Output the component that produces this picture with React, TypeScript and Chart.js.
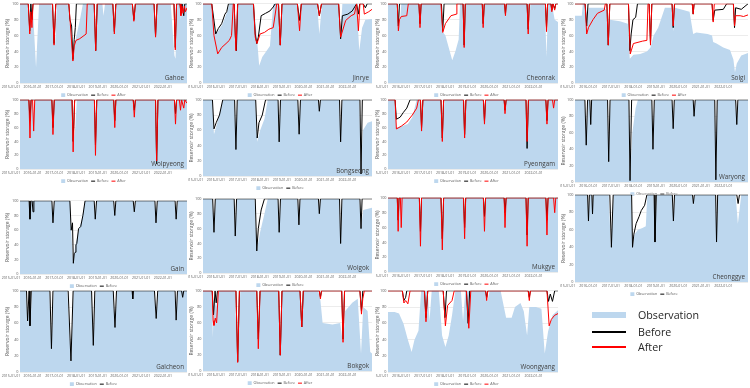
import React, { useEffect, useRef } from 'react';
import { Chart, registerables } from 'chart.js';

Chart.register(...registerables);

type Pt = [number, number];

const xTickYears = [2015, 2016, 2017, 2018, 2019, 2020, 2021, 2022];
const xTickLabels = ['2015-01-01', '2016-01-01', '2017-01-01', '2018-01-01', '2019-01-01', '2020-01-01', '2021-01-01', '2022-01-01'];
const yTickValues = [0, 20, 40, 60, 80, 100];
const seriesNames = ['Observation', 'Before', 'After'];
const yTitle = 'Reservoir storage (%)';

// ---------- Gahoe ----------
const gahoeObs: Pt[] = [[2015,100],[2015.35,100],[2015.42,70],[2015.47,64],[2015.52,95],[2015.6,90],[2015.7,40],[2015.74,20],[2015.8,55],[2015.88,100],[2016.45,100],[2016.55,60],[2016.62,48],[2016.7,100],[2017.2,100],[2017.32,70],[2017.42,37],[2017.5,45],[2017.6,60],[2017.75,78],[2017.9,100],[2018.4,100],[2018.48,41],[2018.55,100],[2018.8,100],[2018.85,85],[2018.92,100],[2019.25,100],[2019.35,62],[2019.45,100],[2020.15,100],[2020.25,79],[2020.35,100],[2021.15,100],[2021.25,56],[2021.35,100],[2021.95,100],[2022.12,35],[2022.17,31],[2022.25,100],[2022.38,100],[2022.42,80],[2022.47,100],[2022.7,100]];
const gahoeBefore: Pt[] = [[2015,100],[2015.38,100],[2015.45,66],[2015.5,100],[2015.55,80],[2015.6,100],[2016.5,100],[2016.57,50],[2016.65,100],[2017.25,100],[2017.3,80],[2017.38,72],[2017.44,30],[2017.5,55],[2017.55,70],[2017.6,100],[2018.42,100],[2018.49,41],[2018.56,100],[2019.28,100],[2019.35,65],[2019.42,100],[2020.18,100],[2020.25,80],[2020.32,100],[2021.18,100],[2021.25,60],[2021.32,100],[2022.1,100],[2022.16,45],[2022.22,100],[2022.38,100],[2022.42,88],[2022.47,100],[2022.55,85],[2022.6,100],[2022.7,100]];
const gahoeAfter: Pt[] = [[2015,100],[2015.38,100],[2015.45,62],[2015.5,90],[2015.55,70],[2015.6,100],[2016.5,100],[2016.57,48],[2016.65,100],[2017.25,100],[2017.32,75],[2017.44,28],[2017.5,47],[2017.58,54],[2017.75,56],[2017.95,60],[2018.05,62],[2018.1,100],[2018.42,100],[2018.49,41],[2018.56,100],[2019.28,100],[2019.35,62],[2019.42,100],[2020.18,100],[2020.25,78],[2020.32,100],[2021.18,100],[2021.25,58],[2021.32,100],[2022.1,100],[2022.16,42],[2022.22,100],[2022.38,100],[2022.42,85],[2022.47,97],[2022.52,88],[2022.58,97],[2022.63,90],[2022.7,95]];

// ---------- Jinrye ----------
const jinryeObs: Pt[] = [[2015,100],[2015.42,100],[2015.55,62],[2015.7,66],[2015.9,75],[2016.1,90],[2016.2,100],[2016.4,100],[2016.47,41],[2016.55,100],[2017.3,100],[2017.45,60],[2017.56,22],[2017.7,33],[2017.9,41],[2018.05,47],[2018.2,100],[2018.42,100],[2018.52,48],[2018.62,100],[2019.28,100],[2019.4,66],[2019.5,100],[2020.2,100],[2020.3,62],[2020.42,100],[2021.15,100],[2021.25,56],[2021.35,100],[2022.0,100],[2022.12,41],[2022.25,70],[2022.4,80],[2022.7,81]];
const jinryeBefore: Pt[] = [[2015,100],[2015.4,100],[2015.58,62],[2015.7,69],[2015.85,75],[2016.0,87],[2016.08,90],[2016.16,100],[2016.42,100],[2016.47,60],[2016.52,41],[2016.58,100],[2017.3,100],[2017.38,62],[2017.45,50],[2017.52,58],[2017.65,85],[2017.85,88],[2018.05,91],[2018.2,96],[2018.29,100],[2018.44,100],[2018.52,48],[2018.6,100],[2019.3,100],[2019.4,79],[2019.48,100],[2020.22,100],[2020.3,85],[2020.4,100],[2021.18,100],[2021.27,56],[2021.35,85],[2021.6,87],[2021.8,91],[2022.0,100],[2022.08,87],[2022.14,100],[2022.3,100],[2022.4,95],[2022.48,100],[2022.7,100]];
const jinryeAfter: Pt[] = [[2015,100],[2015.4,100],[2015.5,60],[2015.67,37],[2015.85,45],[2016.05,50],[2016.2,54],[2016.3,60],[2016.38,100],[2016.42,100],[2016.5,41],[2016.58,100],[2017.3,100],[2017.38,58],[2017.46,50],[2017.6,62],[2017.8,64],[2018.0,68],[2018.2,70],[2018.36,100],[2018.44,100],[2018.52,48],[2018.6,100],[2019.3,100],[2019.4,66],[2019.48,100],[2020.22,100],[2020.3,85],[2020.4,100],[2021.18,100],[2021.27,58],[2021.5,79],[2021.75,85],[2021.9,87],[2022.0,100],[2022.08,66],[2022.15,100],[2022.3,100],[2022.35,87],[2022.55,90],[2022.7,93]];

// ---------- Cheonrak ----------
const cheonrakObs: Pt[] = [[2015,100],[2015.4,100],[2015.47,68],[2015.55,80],[2015.6,100],[2016.38,100],[2016.45,70],[2016.52,100],[2017.4,100],[2017.5,64],[2017.6,60],[2017.75,45],[2017.91,29],[2018.05,40],[2018.2,55],[2018.26,100],[2018.4,100],[2018.45,48],[2018.52,100],[2019.25,100],[2019.31,70],[2019.38,100],[2020.25,100],[2020.33,83],[2020.4,100],[2021.3,100],[2021.38,66],[2021.45,100],[2022.1,100],[2022.18,33],[2022.25,100],[2022.42,100],[2022.55,80],[2022.7,77]];
const cheonrakBefore: Pt[] = [[2015,100],[2015.42,100],[2015.47,72],[2015.52,100],[2016.4,100],[2016.45,75],[2016.5,100],[2017.42,100],[2017.48,66],[2017.54,100],[2018.4,100],[2018.45,48],[2018.5,100],[2019.27,100],[2019.31,75],[2019.36,100],[2020.28,100],[2020.32,87],[2020.36,100],[2021.3,100],[2021.35,68],[2021.4,100],[2022.13,100],[2022.18,70],[2022.23,100],[2022.38,100],[2022.42,92],[2022.47,100],[2022.55,94],[2022.6,100],[2022.7,100]];
const cheonrakAfter: Pt[] = [[2015,100],[2015.42,100],[2015.47,66],[2015.52,80],[2015.6,84],[2015.85,85],[2015.92,100],[2016.4,100],[2016.45,70],[2016.5,100],[2017.4,100],[2017.48,64],[2017.6,75],[2017.85,85],[2018.1,87],[2018.12,100],[2018.4,100],[2018.45,45],[2018.5,100],[2019.27,100],[2019.31,70],[2019.36,100],[2020.28,100],[2020.32,85],[2020.36,100],[2021.3,100],[2021.35,62],[2021.4,100],[2022.13,100],[2022.18,65],[2022.23,100],[2022.38,100],[2022.42,90],[2022.47,100],[2022.55,92],[2022.6,100],[2022.7,100]];

// ---------- Solgi ----------
const solgiObs: Pt[] = [[2015,85],[2015.3,85],[2015.35,100],[2015.45,100],[2015.52,70],[2015.6,95],[2016.3,95],[2016.4,92],[2016.48,48],[2016.55,80],[2017.0,78],[2017.35,75],[2017.44,31],[2017.6,36],[2017.9,37],[2018.2,40],[2018.36,45],[2018.5,60],[2018.7,70],[2019.0,95],[2019.3,95],[2019.37,65],[2019.45,95],[2020.1,90],[2020.26,62],[2020.4,64],[2020.9,62],[2021.1,60],[2021.15,52],[2021.3,50],[2021.6,45],[2021.9,42],[2022.05,30],[2022.12,14],[2022.2,25],[2022.4,35],[2022.7,38]];
const solgiBefore: Pt[] = [[2015,100],[2015.45,100],[2015.52,72],[2015.58,100],[2016.42,100],[2016.48,48],[2016.55,100],[2017.38,100],[2017.44,41],[2017.5,62],[2017.58,80],[2017.7,83],[2017.78,100],[2018.3,100],[2018.36,50],[2018.42,100],[2019.32,100],[2019.37,70],[2019.43,100],[2020.22,100],[2020.26,87],[2020.3,100],[2021.1,100],[2021.15,79],[2021.22,92],[2021.6,93],[2021.75,100],[2022.05,100],[2022.1,70],[2022.15,95],[2022.4,93],[2022.7,100]];
const solgiAfter: Pt[] = [[2015,100],[2015.45,100],[2015.52,62],[2015.6,70],[2015.8,80],[2016.0,88],[2016.3,92],[2016.35,100],[2016.42,100],[2016.48,48],[2016.55,100],[2017.38,100],[2017.46,37],[2017.6,50],[2018.0,53],[2018.2,54],[2018.25,100],[2018.3,100],[2018.36,48],[2018.42,100],[2019.32,100],[2019.37,72],[2019.43,100],[2020.22,100],[2020.26,87],[2020.3,100],[2021.1,100],[2021.15,77],[2021.2,100],[2022.05,100],[2022.1,72],[2022.15,85],[2022.35,85],[2022.5,84],[2022.7,86]];

// ---------- Wolpyeong ----------
const wolpyeongObs: Pt[] = [[2015,100],[2015.4,100],[2015.46,60],[2015.52,100],[2015.58,100],[2015.63,75],[2015.68,100],[2016.45,100],[2016.52,55],[2016.6,100],[2017.38,100],[2017.45,35],[2017.55,60],[2017.62,100],[2018.4,100],[2018.48,30],[2018.56,100],[2019.3,100],[2019.37,70],[2019.44,100],[2020.2,100],[2020.27,80],[2020.34,100],[2021.22,100],[2021.3,10],[2021.38,100],[2022.1,100],[2022.17,75],[2022.24,100],[2022.7,100]];
const wolpyeongBefore: Pt[] = [[2015,100],[2015.41,100],[2015.46,70],[2015.51,100],[2016.47,100],[2016.52,60],[2016.58,100],[2017.4,100],[2017.45,40],[2017.52,100],[2018.43,100],[2018.48,35],[2018.54,100],[2019.32,100],[2019.37,70],[2019.42,100],[2020.22,100],[2020.27,85],[2020.32,100],[2021.25,100],[2021.3,8],[2021.36,100],[2022.12,100],[2022.17,80],[2022.22,100],[2022.7,100]];
const wolpyeongAfter: Pt[] = [[2015,100],[2015.41,100],[2015.46,45],[2015.51,100],[2015.58,100],[2015.63,55],[2015.68,100],[2016.47,100],[2016.52,50],[2016.58,100],[2017.4,100],[2017.45,25],[2017.52,100],[2018.43,100],[2018.48,20],[2018.54,100],[2019.32,100],[2019.37,60],[2019.42,100],[2020.22,100],[2020.27,75],[2020.32,100],[2021.25,100],[2021.3,12],[2021.36,100],[2022.12,100],[2022.17,65],[2022.22,100],[2022.35,100],[2022.4,85],[2022.45,100],[2022.55,88],[2022.6,100],[2022.7,95]];

// ---------- Bongseong ----------
const bongseongObs: Pt[] = [[2015,100],[2015.42,100],[2015.5,55],[2015.65,70],[2015.9,100],[2016.42,100],[2016.5,35],[2016.58,100],[2017.38,100],[2017.47,45],[2017.6,60],[2017.8,75],[2017.95,100],[2018.4,100],[2018.47,45],[2018.55,100],[2019.3,100],[2019.38,55],[2019.45,100],[2020.25,100],[2020.3,85],[2020.36,100],[2021.2,100],[2021.27,45],[2021.35,100],[2022.12,100],[2022.2,5],[2022.28,60],[2022.5,70],[2022.7,72]];
const bongseongBefore: Pt[] = [[2015,100],[2015.43,100],[2015.5,62],[2015.6,70],[2015.75,80],[2015.9,100],[2016.44,100],[2016.5,35],[2016.56,100],[2017.4,100],[2017.47,50],[2017.55,70],[2017.7,80],[2017.85,100],[2018.42,100],[2018.47,45],[2018.53,100],[2019.32,100],[2019.38,55],[2019.44,100],[2020.26,100],[2020.3,85],[2020.35,100],[2021.22,100],[2021.27,45],[2021.33,100],[2022.15,100],[2022.2,3],[2022.26,100],[2022.7,100]];

// ---------- Pyeongam ----------
const pyeongamObs: Pt[] = [[2015,100],[2015.3,100],[2015.38,60],[2015.6,62],[2015.9,65],[2016.1,75],[2016.3,100],[2016.45,100],[2016.52,55],[2016.6,100],[2017.38,100],[2017.46,40],[2017.56,100],[2018.4,100],[2018.47,45],[2018.55,100],[2019.3,100],[2019.37,65],[2019.44,100],[2020.25,100],[2020.3,80],[2020.36,100],[2021.22,100],[2021.3,30],[2021.38,100],[2022.12,100],[2022.2,65],[2022.28,100],[2022.7,100]];
const pyeongamBefore: Pt[] = [[2015,100],[2015.32,100],[2015.38,72],[2015.55,75],[2015.7,82],[2015.85,88],[2016.0,100],[2016.47,100],[2016.52,60],[2016.58,100],[2017.4,100],[2017.46,45],[2017.52,100],[2018.42,100],[2018.47,50],[2018.53,100],[2019.32,100],[2019.37,70],[2019.42,100],[2020.26,100],[2020.3,85],[2020.35,100],[2021.25,100],[2021.3,30],[2021.36,100],[2022.15,100],[2022.2,70],[2022.25,100],[2022.7,100]];
const pyeongamAfter: Pt[] = [[2015,100],[2015.32,100],[2015.38,58],[2015.6,62],[2015.85,68],[2016.1,78],[2016.3,88],[2016.38,100],[2016.47,100],[2016.52,55],[2016.58,100],[2017.4,100],[2017.46,40],[2017.52,100],[2018.42,100],[2018.47,45],[2018.53,100],[2019.32,100],[2019.37,65],[2019.42,100],[2020.26,100],[2020.3,80],[2020.35,100],[2021.25,100],[2021.3,40],[2021.36,100],[2022.15,100],[2022.2,65],[2022.25,100],[2022.45,100],[2022.5,88],[2022.55,100],[2022.7,100]];

// ---------- Waryong ----------
const waryongObs: Pt[] = [[2015,100],[2015.42,100],[2015.5,50],[2015.58,100],[2015.65,100],[2015.7,70],[2015.75,100],[2016.42,100],[2016.5,30],[2016.58,100],[2017.38,100],[2017.45,5],[2017.55,60],[2017.7,90],[2017.8,100],[2018.4,100],[2018.47,40],[2018.55,100],[2019.3,100],[2019.37,65],[2019.44,100],[2020.25,100],[2020.3,80],[2020.36,100],[2021.2,100],[2021.27,5],[2021.35,100],[2022.12,100],[2022.2,70],[2022.28,100],[2022.7,100]];
const waryongBefore: Pt[] = [[2015,100],[2015.44,100],[2015.5,45],[2015.56,100],[2015.66,100],[2015.7,70],[2015.74,100],[2016.45,100],[2016.5,25],[2016.56,100],[2017.4,100],[2017.45,2],[2017.52,100],[2018.42,100],[2018.47,40],[2018.53,100],[2019.32,100],[2019.37,65],[2019.42,100],[2020.26,100],[2020.3,80],[2020.35,100],[2021.22,100],[2021.27,3],[2021.33,100],[2022.15,100],[2022.2,70],[2022.25,100],[2022.7,100]];

// ---------- Gain ----------
const gainObs: Pt[] = [[2015,100],[2015.4,100],[2015.46,75],[2015.52,100],[2016.45,100],[2016.52,70],[2016.6,100],[2017.3,100],[2017.36,60],[2017.45,15],[2017.55,40],[2017.7,60],[2017.85,75],[2018.0,100],[2018.4,100],[2018.47,75],[2018.55,100],[2019.3,100],[2019.37,80],[2019.44,100],[2020.2,100],[2020.27,85],[2020.34,100],[2021.2,100],[2021.27,70],[2021.35,100],[2022.12,100],[2022.2,75],[2022.28,100],[2022.7,100]];
const gainBefore: Pt[] = [[2015,100],[2015.42,100],[2015.46,75],[2015.5,100],[2015.56,100],[2015.6,85],[2015.64,100],[2016.47,100],[2016.52,70],[2016.58,100],[2017.3,100],[2017.36,60],[2017.42,70],[2017.46,15],[2017.5,28],[2017.55,30],[2017.58,40],[2017.62,42],[2017.7,62],[2017.8,65],[2017.9,80],[2018.0,100],[2018.42,100],[2018.47,75],[2018.53,100],[2019.32,100],[2019.37,80],[2019.42,100],[2020.22,100],[2020.27,85],[2020.32,100],[2021.22,100],[2021.27,70],[2021.33,100],[2022.15,100],[2022.2,75],[2022.25,100],[2022.7,100]];

// ---------- Wolgok ----------
const wolgokObs: Pt[] = [[2015,100],[2015.42,100],[2015.5,55],[2015.58,100],[2016.4,100],[2016.47,50],[2016.55,100],[2017.35,100],[2017.45,30],[2017.6,55],[2017.8,80],[2017.95,100],[2018.4,100],[2018.47,55],[2018.55,100],[2019.3,100],[2019.37,65],[2019.44,100],[2020.25,100],[2020.3,80],[2020.36,100],[2021.2,100],[2021.27,40],[2021.35,100],[2022.12,100],[2022.2,60],[2022.3,85],[2022.7,88]];
const wolgokBefore: Pt[] = [[2015,100],[2015.44,100],[2015.5,55],[2015.56,100],[2016.42,100],[2016.47,50],[2016.53,100],[2017.38,100],[2017.45,30],[2017.52,60],[2017.65,85],[2017.8,100],[2018.42,100],[2018.47,55],[2018.53,100],[2019.32,100],[2019.37,65],[2019.42,100],[2020.26,100],[2020.3,80],[2020.35,100],[2021.22,100],[2021.27,40],[2021.33,100],[2022.15,100],[2022.2,60],[2022.25,100],[2022.7,100]];

// ---------- Mukgye ----------
const mukgyeObs: Pt[] = [[2015,100],[2015.4,100],[2015.46,65],[2015.52,100],[2016.4,100],[2016.47,45],[2016.55,100],[2017.38,100],[2017.46,35],[2017.55,100],[2018.4,100],[2018.47,55],[2018.55,100],[2019.3,100],[2019.37,70],[2019.44,100],[2020.25,100],[2020.3,75],[2020.36,100],[2021.22,100],[2021.3,45],[2021.38,100],[2022.12,100],[2022.2,60],[2022.28,100],[2022.7,100]];
const mukgyeBefore: Pt[] = [[2015,100],[2015.42,100],[2015.46,70],[2015.5,100],[2016.42,100],[2016.47,55],[2016.52,100],[2017.4,100],[2017.46,45],[2017.52,100],[2018.42,100],[2018.47,60],[2018.52,100],[2019.32,100],[2019.37,75],[2019.42,100],[2020.26,100],[2020.3,80],[2020.35,100],[2021.25,100],[2021.3,50],[2021.35,100],[2022.15,100],[2022.2,70],[2022.25,100],[2022.7,100]];
const mukgyeAfter: Pt[] = [[2015,100],[2015.42,100],[2015.46,55],[2015.5,100],[2015.56,100],[2015.6,60],[2015.64,100],[2016.42,100],[2016.47,35],[2016.52,100],[2017.4,100],[2017.46,30],[2017.52,100],[2018.42,100],[2018.47,45],[2018.52,100],[2019.32,100],[2019.37,55],[2019.42,100],[2020.26,100],[2020.3,60],[2020.35,100],[2021.25,100],[2021.3,35],[2021.35,100],[2022.15,100],[2022.2,50],[2022.25,100],[2022.5,100],[2022.55,80],[2022.6,100],[2022.7,100]];

// ---------- Cheonggye ----------
const cheonggyeObs: Pt[] = [[2015,100],[2015.55,100],[2015.6,68],[2015.66,100],[2015.74,100],[2015.78,76],[2015.82,100],[2016.5,100],[2016.6,38],[2016.72,100],[2017.5,100],[2017.56,38],[2017.65,55],[2017.8,60],[2018.0,62],[2018.15,64],[2018.22,100],[2018.5,100],[2018.56,44],[2018.64,100],[2019.32,100],[2019.38,68],[2019.45,100],[2020.22,100],[2020.27,88],[2020.32,100],[2021.25,100],[2021.3,44],[2021.36,100],[2022.15,100],[2022.25,67],[2022.4,100],[2022.7,100]];
const cheonggyeBefore: Pt[] = [[2015,100],[2015.56,100],[2015.6,70],[2015.64,100],[2015.75,100],[2015.78,78],[2015.81,100],[2016.55,100],[2016.62,40],[2016.7,100],[2017.52,100],[2017.56,40],[2017.62,55],[2017.72,67],[2017.85,75],[2017.95,82],[2018.1,88],[2018.2,100],[2018.52,100],[2018.56,46],[2018.62,100],[2019.33,100],[2019.38,70],[2019.43,100],[2020.23,100],[2020.27,90],[2020.31,100],[2021.26,100],[2021.3,46],[2021.35,100],[2022.2,100],[2022.26,90],[2022.32,100],[2022.7,100]];

// ---------- Galcheon ----------
const galcheonObs: Pt[] = [[2015,100],[2015.28,100],[2015.35,60],[2015.45,100],[2015.48,55],[2015.55,100],[2016.35,100],[2016.45,27],[2016.55,100],[2017.18,100],[2017.35,12],[2017.47,100],[2018.28,100],[2018.38,31],[2018.48,100],[2019.28,100],[2019.38,53],[2019.48,100],[2020.15,100],[2020.2,88],[2020.25,100],[2021.18,100],[2021.28,64],[2021.38,100],[2022.12,100],[2022.2,62],[2022.28,100],[2022.7,100]];
const galcheonBefore: Pt[] = [[2015,100],[2015.3,100],[2015.35,63],[2015.42,100],[2015.46,57],[2015.52,100],[2016.38,100],[2016.45,29],[2016.52,100],[2017.22,100],[2017.35,14],[2017.45,100],[2018.3,100],[2018.38,33],[2018.45,100],[2019.3,100],[2019.38,55],[2019.45,100],[2020.17,100],[2020.2,90],[2020.23,100],[2021.2,100],[2021.28,66],[2021.35,100],[2022.15,100],[2022.2,64],[2022.26,100],[2022.45,100],[2022.5,92],[2022.55,100],[2022.7,100]];

// ---------- Bokgok ----------
const bokgokObs: Pt[] = [[2015,100],[2015.4,100],[2015.45,42],[2015.5,90],[2015.6,80],[2015.7,100],[2016.45,100],[2016.58,10],[2016.7,100],[2017.4,100],[2017.52,26],[2017.62,100],[2018.42,100],[2018.52,18],[2018.62,100],[2019.4,100],[2019.5,53],[2019.58,100],[2020.25,100],[2020.35,88],[2020.45,60],[2020.9,58],[2021.25,60],[2021.38,34],[2021.48,75],[2021.8,85],[2022.05,90],[2022.2,22],[2022.3,80],[2022.5,75],[2022.62,24],[2022.7,22]];
const bokgokBefore: Pt[] = [[2015,100],[2015.42,100],[2015.48,70],[2015.55,100],[2015.6,85],[2015.66,100],[2016.5,100],[2016.58,12],[2016.66,100],[2017.45,100],[2017.52,40],[2017.6,100],[2018.45,100],[2018.52,20],[2018.6,100],[2019.42,100],[2019.5,55],[2019.57,100],[2020.3,100],[2020.35,92],[2020.4,100],[2021.32,100],[2021.38,40],[2021.45,100],[2022.15,100],[2022.22,75],[2022.28,100],[2022.7,100]];
const bokgokAfter: Pt[] = [[2015,100],[2015.42,100],[2015.46,63],[2015.5,57],[2015.56,66],[2015.62,60],[2015.7,100],[2016.5,100],[2016.58,11],[2016.66,100],[2017.45,100],[2017.52,28],[2017.6,100],[2018.45,100],[2018.52,20],[2018.6,100],[2019.42,100],[2019.5,55],[2019.57,100],[2020.3,100],[2020.35,90],[2020.4,100],[2021.32,100],[2021.38,36],[2021.45,100],[2022.15,100],[2022.22,71],[2022.28,90],[2022.35,100],[2022.7,100]];

// ---------- Woongyang ----------
const woongyangObs: Pt[] = [[2015,74],[2015.3,74],[2015.5,72],[2015.7,60],[2015.9,40],[2016.07,25],[2016.2,40],[2016.38,51],[2016.5,100],[2016.8,100],[2016.88,63],[2016.98,100],[2017.3,100],[2017.45,45],[2017.6,31],[2017.75,45],[2017.9,70],[2018.05,100],[2018.3,100],[2018.4,63],[2018.5,100],[2019.4,100],[2019.5,87],[2019.6,100],[2020.1,100],[2020.35,67],[2020.6,67],[2020.75,80],[2021.0,85],[2021.15,75],[2021.3,45],[2021.4,80],[2021.7,80],[2021.95,78],[2022.1,23],[2022.25,50],[2022.45,70],[2022.7,76]];
const woongyangBefore: Pt[] = [[2015,100],[2015.65,100],[2015.72,88],[2015.8,92],[2015.85,100],[2016.65,100],[2016.72,67],[2016.8,100],[2017.5,100],[2017.58,67],[2017.65,100],[2018.55,100],[2018.63,60],[2018.7,100],[2019.42,100],[2019.47,92],[2019.52,100],[2021.35,100],[2021.4,92],[2021.45,100],[2022.2,100],[2022.27,87],[2022.35,96],[2022.45,87],[2022.55,100],[2022.7,100]];
const woongyangAfter: Pt[] = [[2015,100],[2015.65,100],[2015.72,85],[2015.8,88],[2015.9,84],[2016.0,100],[2016.65,100],[2016.72,62],[2016.8,100],[2017.5,100],[2017.6,57],[2017.7,82],[2017.9,88],[2018.0,100],[2018.55,100],[2018.66,54],[2018.75,100],[2019.42,100],[2019.47,88],[2019.52,100],[2021.35,100],[2021.4,88],[2021.45,100],[2022.2,100],[2022.3,57],[2022.4,65],[2022.55,70],[2022.7,72]];

// ---------- styling / layout ----------
const OBS_COLOR = '#BDD7EE';
const BEFORE_COLOR = '#000000';
const AFTER_COLOR = '#FF0000';
const TEXT_COLOR = '#595959';
const FONT = "'Open Sans', 'DejaVu Sans', sans-serif";

interface Col { left: number; right: number; plotLeft: number; plotRight: number; titlePad: number; }
const cols: Col[] = [
  { left: 0, right: 188, plotLeft: 20, plotRight: 187, titlePad: 5 },
  { left: 188, right: 375, plotLeft: 203, plotRight: 372, titlePad: 0.5 },
  { left: 375, right: 560, plotLeft: 388, plotRight: 558, titlePad: 0 },
  { left: 560, right: 750, plotLeft: 575, plotRight: 748, titlePad: 0.5 },
];

interface PanelSpec { name: string; obs: Pt[]; before: Pt[]; after?: Pt[]; col: number; plotTop: number; plotBottom: number; }

const panels: PanelSpec[] = [
  { name: 'Gahoe', obs: gahoeObs, before: gahoeBefore, after: gahoeAfter, col: 0, plotTop: 3, plotBottom: 83 },
  { name: 'Jinrye', obs: jinryeObs, before: jinryeBefore, after: jinryeAfter, col: 1, plotTop: 3, plotBottom: 83 },
  { name: 'Cheonrak', obs: cheonrakObs, before: cheonrakBefore, after: cheonrakAfter, col: 2, plotTop: 3, plotBottom: 83 },
  { name: 'Solgi', obs: solgiObs, before: solgiBefore, after: solgiAfter, col: 3, plotTop: 3, plotBottom: 83 },
  { name: 'Wolpyeong', obs: wolpyeongObs, before: wolpyeongBefore, after: wolpyeongAfter, col: 0, plotTop: 99, plotBottom: 169 },
  { name: 'Bongseong', obs: bongseongObs, before: bongseongBefore, col: 1, plotTop: 99, plotBottom: 176 },
  { name: 'Pyeongam', obs: pyeongamObs, before: pyeongamBefore, after: pyeongamAfter, col: 2, plotTop: 99, plotBottom: 169 },
  { name: 'Waryong', obs: waryongObs, before: waryongBefore, col: 3, plotTop: 99, plotBottom: 182 },
  { name: 'Gain', obs: gainObs, before: gainBefore, col: 0, plotTop: 200, plotBottom: 274 },
  { name: 'Wolgok', obs: wolgokObs, before: wolgokBefore, col: 1, plotTop: 198, plotBottom: 273 },
  { name: 'Mukgye', obs: mukgyeObs, before: mukgyeBefore, after: mukgyeAfter, col: 2, plotTop: 197, plotBottom: 272 },
  { name: 'Cheonggye', obs: cheonggyeObs, before: cheonggyeBefore, col: 3, plotTop: 194, plotBottom: 282 },
  { name: 'Galcheon', obs: galcheonObs, before: galcheonBefore, col: 0, plotTop: 290, plotBottom: 372 },
  { name: 'Bokgok', obs: bokgokObs, before: bokgokBefore, after: bokgokAfter, col: 1, plotTop: 290, plotBottom: 371 },
  { name: 'Woongyang', obs: woongyangObs, before: woongyangBefore, after: woongyangAfter, col: 2, plotTop: 290, plotBottom: 372 },
];

const TOP_PAD = 3;
const X_AXIS_H = 7;
const LEGEND_H = 17;

const nameLabelPlugin = {
  id: 'nameLabel',
  afterDatasetsDraw(chart: any, _args: any, opts: any) {
    const { ctx, chartArea } = chart;
    ctx.save();
    ctx.font = `6.3px ${FONT}`;
    ctx.fillStyle = '#404040';
    ctx.textAlign = 'right';
    ctx.textBaseline = 'alphabetic';
    ctx.fillText(opts.text, chartArea.right - 3, chartArea.bottom - 3);
    ctx.restore();
  },
};

const toXY = (pts: Pt[]) => pts.map(([x, y]) => ({ x, y }));

function Panel({ spec }: { spec: PanelSpec }) {
  const ref = useRef<HTMLCanvasElement>(null);
  const col = cols[spec.col];
  const top = spec.plotTop - TOP_PAD;
  const width = col.right - col.left;
  const height = spec.plotBottom - top + X_AXIS_H + LEGEND_H;

  useEffect(() => {
    if (!ref.current) return;
    const datasets: any[] = [
      {
        label: seriesNames[0], data: toXY(spec.obs), fill: 'origin', backgroundColor: OBS_COLOR,
        borderColor: 'rgba(0,0,0,0)', borderWidth: 0, pointRadius: 0, order: 3,
      },
      {
        label: seriesNames[1], data: toXY(spec.before), fill: false, borderColor: BEFORE_COLOR,
        backgroundColor: BEFORE_COLOR, borderWidth: 1, pointRadius: 0, order: 2,
      },
    ];
    if (spec.after) {
      datasets.push({
        label: seriesNames[2], data: toXY(spec.after), fill: false, borderColor: AFTER_COLOR,
        backgroundColor: AFTER_COLOR, borderWidth: 1, pointRadius: 0, order: 1,
      });
    }
    const chart = new Chart(ref.current, {
      type: 'line',
      data: { datasets },
      options: {
        animation: false,
        responsive: false,
        maintainAspectRatio: false,
        devicePixelRatio: 1,
        events: [],
        layout: { padding: { top: TOP_PAD, left: 0, right: width - (col.plotRight - col.left), bottom: 0 } },
        scales: {
          x: {
            type: 'linear', min: 2015, max: 2022.7,
            grid: { display: true, drawOnChartArea: false, drawTicks: false, color: 'rgba(0,0,0,0)' },
            border: { display: false },
            afterBuildTicks: (s: any) => { s.ticks = xTickYears.map((v) => ({ value: v })); },
            afterFit: (s: any) => { s.height = X_AXIS_H; s.paddingLeft = 0; s.paddingRight = 0; },
            ticks: {
              display: true, autoSkip: false, maxRotation: 0, minRotation: 0, align: 'center',
              labelOffset: -9, padding: 2,
              font: { size: 3.5, family: FONT }, color: TEXT_COLOR,
              callback: function (_v: any, i: number) { return xTickLabels[i]; },
            },
          },
          y: {
            min: 0, max: 100,
            afterBuildTicks: (s: any) => { s.ticks = yTickValues.map((v) => ({ value: v })); },
            afterFit: (s: any) => { s.width = col.plotLeft - col.left; },
            grid: { color: '#D9D9D9', lineWidth: 0.5, drawTicks: false },
            border: { display: false },
            ticks: { padding: 1.5, font: { size: 3.8, family: FONT }, color: TEXT_COLOR },
            title: {
              display: true, text: yTitle, color: TEXT_COLOR,
              font: { size: 5, family: FONT }, padding: { top: col.titlePad, bottom: 0 },
            },
          },
        },
        plugins: {
          legend: {
            display: true, position: 'bottom',
            labels: {
              usePointStyle: true, pointStyleWidth: 4, padding: 3, color: TEXT_COLOR,
              font: { size: 3.7, family: FONT },
              generateLabels: (c: any) => c.data.datasets.map((ds: any, i: number) => ({
                text: ds.label,
                fillStyle: i === 0 ? OBS_COLOR : ds.borderColor,
                strokeStyle: i === 0 ? OBS_COLOR : ds.borderColor,
                lineWidth: i === 0 ? 0 : 1,
                pointStyle: i === 0 ? 'rect' : 'line',
                hidden: false,
                datasetIndex: i,
                fontColor: TEXT_COLOR,
              })),
            },
          },
          tooltip: { enabled: false },
          nameLabel: { text: spec.name },
        } as any,
      },
      plugins: [nameLabelPlugin],
    } as any);
    return () => chart.destroy();
  }, []);

  return (
    <canvas
      ref={ref}
      width={width}
      height={height}
      style={{ position: 'absolute', left: col.left, top, width, height }}
    />
  );
}

const legendRows = [
  { label: seriesNames[0], kind: 'box', color: OBS_COLOR, y: 315 },
  { label: seriesNames[1], kind: 'line', color: BEFORE_COLOR, y: 332 },
  { label: seriesNames[2], kind: 'line', color: AFTER_COLOR, y: 347 },
];

export default function App() {
  return (
    <div style={{ position: 'absolute', left: 0, top: 0, width: 750, height: 388, background: '#fff', overflow: 'hidden' }}>
      {panels.map((p) => <Panel key={p.name} spec={p} />)}
      {legendRows.map((r) => (
        <React.Fragment key={r.label}>
          <div
            style={{
              position: 'absolute', left: 592, width: 34,
              top: r.kind === 'box' ? r.y - 3.3 : r.y - 0.7,
              height: r.kind === 'box' ? 6.6 : 1.4,
              background: r.color,
            }}
          />
          <div
            style={{
              position: 'absolute', left: 638, top: r.y - 8, height: 16, lineHeight: '16px',
              fontFamily: FONT, fontSize: 10.7, color: '#262626', whiteSpace: 'nowrap',
            }}
          >
            {r.label}
          </div>
        </React.Fragment>
      ))}
    </div>
  );
}
